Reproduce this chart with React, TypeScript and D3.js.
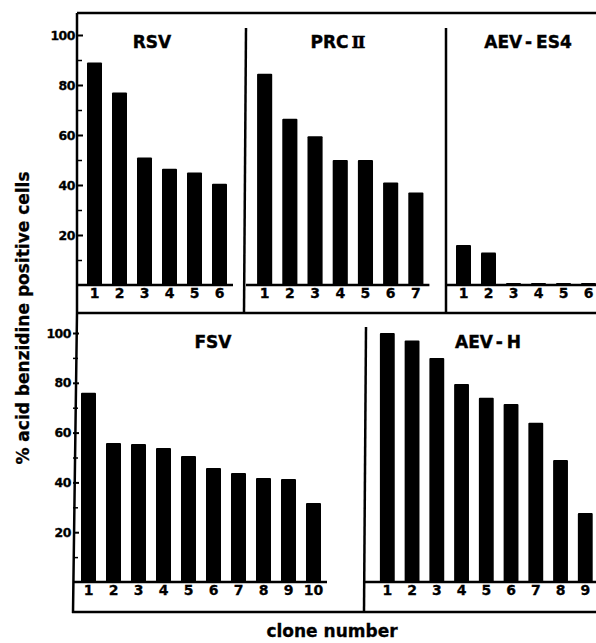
// Acid benzidine positive cells per clone, five virus panels
import React, { useEffect, useRef } from "react";
import * as d3 from "d3";

// data (% positive cells per clone)
const rsvValues = [89, 77, 51, 46.5, 45, 40.5];
const prcValues = [84.5, 66.5, 59.5, 50, 50, 41, 37];
const es4Values = [16, 13, 0.8, 0.8, 0.8, 0.8];
const fsvValues = [76, 55.8, 55.4, 53.8, 50.6, 45.8, 43.8, 41.8, 41.4, 31.7];
const aevhValues = [100, 97, 90, 79.5, 74, 71.5, 64, 49, 27.7];

const yTicks = [20, 40, 60, 80, 100];
const yMinorTicks = [10, 30, 50, 70, 90];

const cloneLabels = (n: number) => d3.range(1, n + 1).map(String);

const W = 596;
const H = 643;
const FONT = "'DejaVu Sans', sans-serif";

// two rows, each with its own y scale
const rows = {
  top: { y0: 285, y100: 35, frameTop: 13, frameBottom: 313, axisX: 77, titleY: 48, labelPad: 3 },
  bottom: { y0: 582, y100: 333, frameTop: 313, frameBottom: 612, axisX: 73, titleY: 348, labelPad: 3 },
};

type Panel = {
  title: string;
  values: number[];
  row: "top" | "bottom";
  left: number; // panel left edge
  x0: number;
  x1: number;
  titleX: number;
  axis: boolean;
};

const panels: Panel[] = [
  { title: "RSV", values: rsvValues, row: "top", left: 77, x0: 77, x1: 237, titleX: 152, axis: true },
  { title: "PRC", values: prcValues, row: "top", left: 246, x0: 247, x1: 433.5, titleX: 337, axis: false },
  { title: "AEV-ES4", values: es4Values, row: "top", left: 446, x0: 446, x1: 606, titleX: 528, axis: false },
  { title: "FSV", values: fsvValues, row: "bottom", left: 73, x0: 71, x1: 331, titleX: 213, axis: true },
  { title: "AEV-H", values: aevhValues, row: "bottom", left: 365, x0: 370, x1: 602.6, titleX: 488, axis: false },
];

function PanelChart({ p }: { p: Panel }) {
  const xAxisRef = useRef<SVGGElement>(null);
  const yAxisRef = useRef<SVGGElement>(null);
  const yMinorRef = useRef<SVGGElement>(null);
  const r = rows[p.row];
  const labels = cloneLabels(p.values.length);

  const xScale = d3.scaleBand<string>().domain(labels).range([p.x0, p.x1]).padding(0.4);
  const yScale = d3.scaleLinear().domain([0, 100]).range([r.y0, r.y100]);

  useEffect(() => {
    // clone numbers under the baseline
    const xa = d3.axisBottom(xScale).tickSize(0).tickPadding(r.labelPad);
    const gx = d3.select(xAxisRef.current!).call(xa);
    gx.select(".domain").remove();
    gx.selectAll("text")
      .attr("font-family", FONT)
      .attr("font-weight", "bold")
      .attr("font-size", 14)
      .attr("stroke", "#000")
      .attr("stroke-width", 0.3)
      .attr("fill", "#000");

    if (p.axis) {
      const ya = d3.axisLeft(yScale).tickValues(yTicks).tickSizeInner(-6).tickSizeOuter(0).tickPadding(2);
      const gy = d3.select(yAxisRef.current!).call(ya);
      gy.select(".domain").remove();
      gy.selectAll("line").attr("stroke", "#000").attr("stroke-width", 2);
      gy.selectAll("text")
        .attr("font-family", FONT)
        .attr("font-weight", "bold")
        .attr("font-size", 12.5)
        .attr("letter-spacing", -0.5)
        .attr("stroke", "#000")
        .attr("stroke-width", 0.3)
        .attr("fill", "#000");

      const ym = d3.axisLeft(yScale).tickValues(yMinorTicks).tickSizeInner(-5).tickSizeOuter(0).tickFormat(() => "");
      const gm = d3.select(yMinorRef.current!).call(ym);
      gm.select(".domain").remove();
      gm.selectAll("line").attr("stroke", "#000").attr("stroke-width", 1.5);
    }
  });

  const lastBarEnd = (xScale(labels[labels.length - 1]) ?? 0) + xScale.bandwidth() + 6;

  return (
    <g>
      {p.values.map((v, i) => (
        <rect
          key={i}
          x={xScale(labels[i])}
          y={yScale(v)}
          width={xScale.bandwidth()}
          height={r.y0 - yScale(v)}
          rx={1}
          fill="#000"
        />
      ))}
      <line x1={p.left} x2={Math.min(lastBarEnd, W)} y1={r.y0} y2={r.y0} stroke="#000" strokeWidth={2.5} />
      <g ref={xAxisRef} transform={`translate(0,${r.y0})`} />
      {p.axis && <g ref={yAxisRef} transform={`translate(${p.left},0)`} />}
      {p.axis && <g ref={yMinorRef} transform={`translate(${p.left},0)`} />}
      <text
        x={p.titleX}
        y={r.titleY}
        textAnchor="middle"
        fontFamily={FONT}
        fontWeight="bold"
        fontSize={17}
        stroke="#000"
        strokeWidth={0.4}
      >
        {p.title === "PRC" ? (
          <>
            PRC<tspan dx={3} fontFamily="'DejaVu Serif', serif" letterSpacing={-2}>II</tspan>
          </>
        ) : p.title.includes("-") ? (
          <>
            {p.title.split("-")[0]}
            <tspan dx={4}>-</tspan>
            <tspan dx={4}>{p.title.split("-")[1]}</tspan>
          </>
        ) : (
          p.title
        )}
      </text>
    </g>
  );
}

export default function App() {
  const t = rows.top;
  const b = rows.bottom;
  return (
    <svg width={W} height={H} style={{ position: "absolute", left: 0, top: 0, background: "#fff" }}>
      <rect width={W} height={H} fill="#fff" />
      {/* frames */}
      <g stroke="#000" strokeWidth={2.5} fill="none">
        <line x1={t.axisX} x2={W} y1={t.frameTop} y2={t.frameTop} />
        <line x1={t.axisX} x2={W} y1={t.frameBottom} y2={t.frameBottom} />
        <line x1={b.axisX - 1} x2={W} y1={b.frameBottom} y2={b.frameBottom} />
        <path d={`M${t.axisX},${t.frameTop} L${t.axisX},${t.frameBottom} L${b.axisX},${b.frameBottom + 1}`} />
        <line x1={246} x2={244} y1={28} y2={t.frameBottom} />
        <line x1={446} x2={446} y1={28} y2={t.frameBottom} />
        <line x1={366} x2={364} y1={327} y2={b.frameBottom} />
      </g>
      {panels.map((p) => (
        <PanelChart key={p.title} p={p} />
      ))}
      <text
        transform={`translate(29,318) rotate(-90)`}
        textAnchor="middle"
        fontFamily={FONT}
        fontWeight="bold"
        fontSize={17}
        stroke="#000"
        strokeWidth={0.3}
      >
        % acid benzidine positive cells
      </text>
      <text
        x={332}
        y={637}
        textAnchor="middle"
        fontFamily={FONT}
        fontWeight="bold"
        fontSize={17}
        stroke="#000"
        strokeWidth={0.3}
      >
        clone number
      </text>
    </svg>
  );
}
